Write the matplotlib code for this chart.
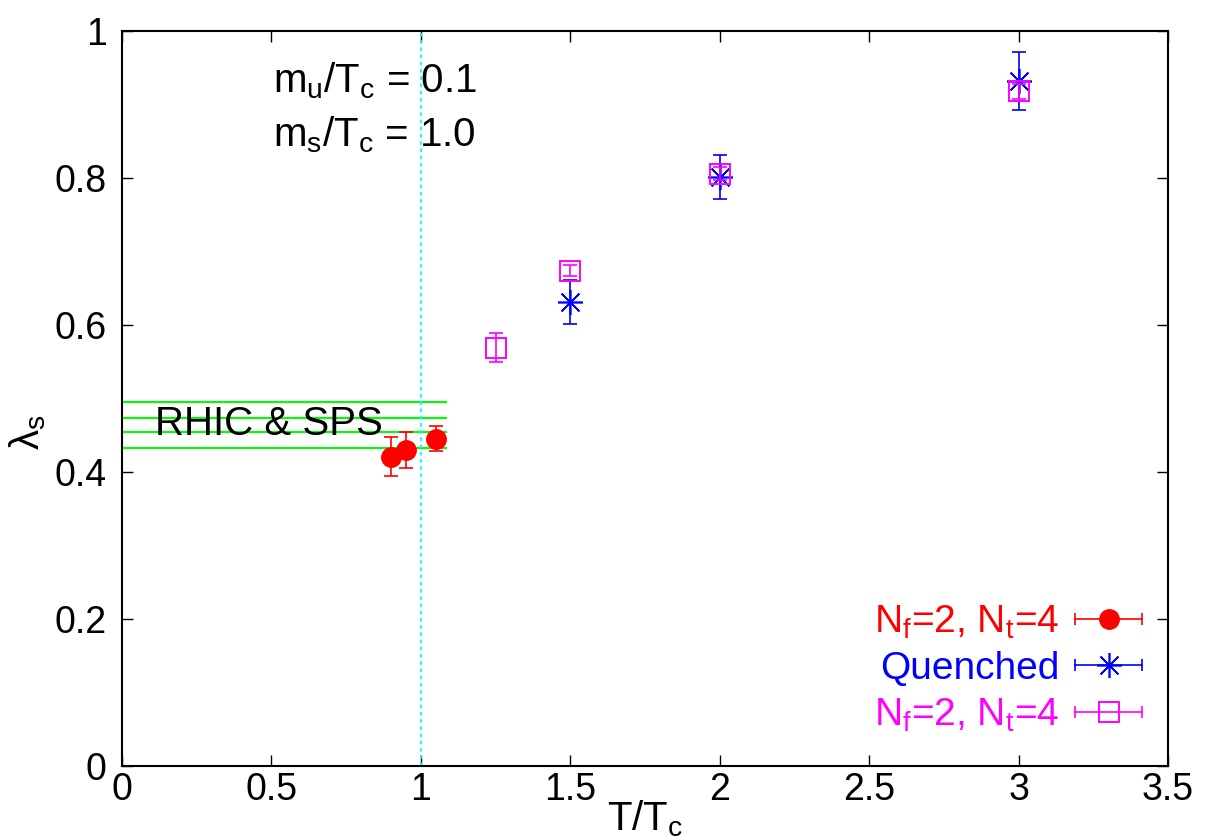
import numpy as np
import matplotlib
matplotlib.use("Agg")
import matplotlib.pyplot as plt
from matplotlib.lines import Line2D
from matplotlib.legend_handler import HandlerBase

plt.rcParams['font.family'] = ['Liberation Sans', 'DejaVu Sans']
plt.rcParams['mathtext.fontset'] = 'custom'
plt.rcParams['mathtext.rm'] = 'Liberation Sans'
plt.rcParams['mathtext.it'] = 'Liberation Sans'
plt.rcParams['mathtext.sf'] = 'Liberation Sans'
plt.rcParams['font.size'] = 27

# Nf=2, Nt=4 (filled circles)
nf2_x = [0.90, 0.95, 1.05]
nf2_y = [0.421, 0.430, 0.445]
nf2_err = [0.026, 0.025, 0.017]

# Quenched (asterisks)
q_x = [1.5, 2.0, 3.0]
q_y = [0.631, 0.801, 0.932]
q_err = [0.030, 0.030, 0.040]

# Nf=2, Nt=4 (open squares)
sq_x = [1.25, 1.5, 2.0, 3.0]
sq_y = [0.569, 0.674, 0.806, 0.918]
sq_err = [0.020, 0.008, 0.009, 0.010]

# RHIC & SPS band lines
rhic_levels = [0.433, 0.454, 0.474, 0.495]
rhic_xmax = 1.085


class HandlerGnuplot(HandlerBase):
    """Horizontal error bar with caps and the marker in the middle."""

    def create_artists(self, legend, orig_handle, xdescent, ydescent,
                       width, height, fontsize, trans):
        y = height / 2 - ydescent
        x0, x1 = -xdescent, width - xdescent
        c = orig_handle.get_color()
        bar = Line2D([x0, x1], [y, y], color=c, lw=1.2, transform=trans)
        caps = Line2D([x0, x1], [y, y], ls='none', marker='|', ms=9,
                      mew=1.2, color=c, transform=trans)
        mark = Line2D([(x0 + x1) / 2], [y], ls='none',
                      marker=orig_handle.get_marker(),
                      ms=orig_handle.get_markersize(),
                      mfc=orig_handle.get_markerfacecolor(),
                      mec=orig_handle.get_markeredgecolor(),
                      mew=orig_handle.get_markeredgewidth(),
                      transform=trans)
        return [bar, caps, mark]


fig = plt.figure(figsize=(12.05, 8.4), dpi=100)
ax = fig.add_axes([0.1012, 0.0881, 0.8681, 0.875])

for lvl in rhic_levels:
    ax.plot([0, rhic_xmax], [lvl, lvl], color='#00ff00', lw=1.5)
ax.text(0.11, 0.451, "RHIC & SPS", fontsize=29, color='black')

ax.axvline(1.0, color='#00ffff', lw=1.3, ls=(0, (2, 2)))

e1 = ax.errorbar(nf2_x, nf2_y, yerr=nf2_err, fmt='o', color='red',
                 ms=14, capsize=5, elinewidth=1.2, capthick=1.2)
e2 = ax.errorbar(q_x, q_y, yerr=q_err, fmt='none', ecolor='blue',
                 capsize=5, elinewidth=1.2, capthick=1.2)
l2, = ax.plot(q_x, q_y, ls='none', marker=(8, 2, 0), ms=18, mew=1.2,
              color='blue', mec='blue')
e3 = ax.errorbar(sq_x, sq_y, yerr=sq_err, fmt='none', ecolor='magenta',
                 capsize=5, elinewidth=1.2, capthick=1.2)
l3, = ax.plot(sq_x, sq_y, ls='none', marker='s', ms=14, mew=1.4,
              mfc='none', mec='magenta', color='magenta')

ax.text(0.505, 0.917, r"m$_\mathregular{u}$/T$_\mathregular{c}$ = 0.1", fontsize=29)
ax.text(0.505, 0.843, r"m$_\mathregular{s}$/T$_\mathregular{c}$ = 1.0", fontsize=29)

ax.set_xlim(0, 3.5)
ax.set_ylim(0, 1)
ax.set_xticks([0, 0.5, 1, 1.5, 2, 2.5, 3, 3.5])
ax.set_xticklabels(["0", "0.5", "1", "1.5", "2", "2.5", "3", "3.5"])
ax.set_yticks([0, 0.2, 0.4, 0.6, 0.8, 1])
ax.set_yticklabels(["0", "0.2", "0.4", "0.6", "0.8", "1"])
ax.tick_params(direction='in', length=8, width=1, top=True, right=True,
               labelsize=27)
ax.tick_params(axis='y', pad=11)
ax.tick_params(axis='x', pad=4)
for s in ax.spines.values():
    s.set_linewidth(1.5)

ax.set_xlabel(r"T/T$_\mathregular{c}$", fontsize=29)
ax.xaxis.set_label_coords(0.5, -0.044)
ax.set_ylabel(r"$\lambda_\mathregular{s}$", fontsize=29)
ax.yaxis.set_label_coords(-0.071, 0.454)

lab = r"N$_\mathregular{f}$=2, N$_\mathregular{t}$=4"
leg = ax.legend([e1[0], l2, l3], [lab, "Quenched", lab],
                handler_map={Line2D: HandlerGnuplot()},
                loc='lower right', bbox_to_anchor=(0.99, 0.022),
                markerfirst=False, frameon=False,
                handlelength=1.72, handletextpad=0.4, labelspacing=0.26,
                borderaxespad=0, borderpad=0.4, fontsize=28)
for t, c in zip(leg.get_texts(), ['red', 'blue', 'magenta']):
    t.set_color(c)

fig.savefig("out.png", dpi=100)
